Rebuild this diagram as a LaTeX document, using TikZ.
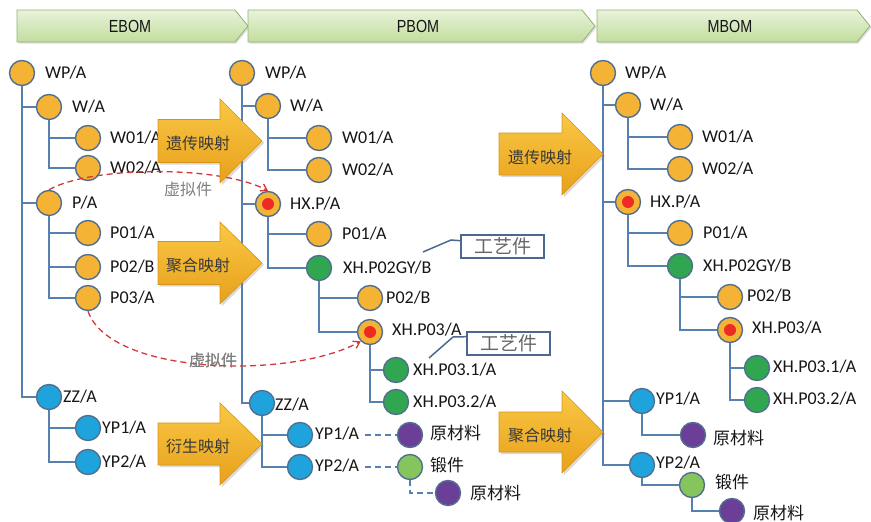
\documentclass[tikz,border=0pt]{standalone}
\usepackage{fontspec}
\setmainfont{Carlito}
\newfontfamily\hdrfont[FakeStretch=0.82]{Liberation Sans}
\newfontfamily\cjk{Noto Sans CJK SC}
\usetikzlibrary{shadows,calc,arrows.meta}

\definecolor{corange}{HTML}{F5B335}
\definecolor{cblue}{HTML}{1FA3DC}
\definecolor{cgreen}{HTML}{30A651}
\definecolor{clgreen}{HTML}{86C55E}
\definecolor{cpurple}{HTML}{6B3F98}
\definecolor{cdot}{HTML}{EE2A24}
\definecolor{cbord}{HTML}{51708F}
\definecolor{cline}{HTML}{5680B0}
\definecolor{cred}{HTML}{D2373A}
\definecolor{ctext}{HTML}{161616}
\definecolor{cgrey}{HTML}{808080}
\definecolor{hdrtop}{HTML}{E8F3DA}
\definecolor{hdrbot}{HTML}{C2DD9E}
\definecolor{hdrline}{HTML}{93B073}
\definecolor{arrtop}{HTML}{F9C846}
\definecolor{arrbot}{HTML}{E8A01A}
\definecolor{arrline}{HTML}{D6951A}
\definecolor{cbox}{HTML}{4A6890}

\begin{document}
\begin{tikzpicture}[x=1pt,y=-1pt,
  dot/.style={circle, draw=cbord, line width=1.4pt, minimum size=25pt, inner sep=0pt},
  ob/.style={dot, fill=corange},
  obr/.style={dot, fill=corange, path picture={\fill[cdot] (path picture bounding box.center) circle (6pt);}},
  bb/.style={dot, fill=cblue},
  gb/.style={dot, fill=cgreen},
  lgb/.style={dot, fill=clgreen},
  pb/.style={dot, fill=cpurple},
  lbl/.style={anchor=west, inner sep=0pt, text=ctext, font=\fontsize{18}{20}\selectfont},
  clbl/.style={anchor=west, inner sep=0pt, text=ctext, font=\cjk\fontsize{17}{20}\selectfont},
  ln/.style={draw=cline, line width=1.5pt},
  dln/.style={draw=cline, line width=1.5pt, dash pattern=on 6pt off 4pt},
  vline/.style={draw=cred, line width=1.3pt, dash pattern=on 6pt off 4pt, -{Straight Barb[length=6pt,width=8pt]}},
  vlbl/.style={inner sep=1pt, fill=white, text=cgrey, font=\cjk\fontsize{16}{18}\selectfont},
  hdr/.style={draw=hdrline, line width=0.8pt, top color=hdrtop, bottom color=hdrbot,
    drop shadow={opacity=0.25, shadow xshift=1.5pt, shadow yshift=-1.5pt}},
  htext/.style={text=ctext, font=\hdrfont\fontsize{17.5}{18}\selectfont},
  barrow/.style={draw=arrline, line width=0.6pt, top color=arrtop, bottom color=arrbot,
    drop shadow={opacity=0.3, shadow xshift=2pt, shadow yshift=-2pt}},
  atext/.style={text=ctext!85, font=\cjk\fontsize{16}{18}\selectfont},
  callbox/.style={draw=cbox, line width=1.6pt, minimum width=83pt, minimum height=23pt, inner sep=0pt,
    text=cgrey!80!black, font=\cjk\fontsize{19}{20}\selectfont},
  callln/.style={draw=cbox, line width=1.5pt}
]
\useasboundingbox (0,0) rectangle (871,522);

% ---------- stage headers ----------
\path[hdr] (17,10) -- (235,10) -- (248,26) -- (235,42) -- (17,42) -- cycle;
\path[hdr] (248,10) -- (582,10) -- (595,26) -- (582,42) -- (248,42) -- cycle;
\path[hdr] (597,10) -- (857,10) -- (870,26) -- (857,42) -- (597,42) -- cycle;
\node[htext] (hE) at (130,26) {EBOM};
\node[htext] (hP) at (418,26) {PBOM};
\node[htext] (hM) at (730,26) {MBOM};

% ---------- EBOM tree ----------
\node[ob] (ewp)  at (22,73)  {};  \node[lbl] (lewp)  at (45,73)  {WP/A};
\node[ob] (ew)   at (49,107) {};  \node[lbl] (lew)   at (72,107) {W/A};
\node[ob] (ew1)  at (88,138) {};  \node[lbl] (lew1)  at (110,138) {W01/A};
\node[ob] (ew2)  at (88,168) {};  \node[lbl] (lew2)  at (110,168) {W02/A};
\node[ob] (ep)   at (49,203) {};  \node[lbl] (lep)   at (72,203) {P/A};
\node[ob] (ep1)  at (88,233) {};  \node[lbl] (lep1)  at (110,233) {P01/A};
\node[ob] (ep2)  at (88,267) {};  \node[lbl] (lep2)  at (110,267) {P02/B};
\node[ob] (ep3)  at (88,298) {};  \node[lbl] (lep3)  at (110,298) {P03/A};
\node[bb] (ezz)  at (49,397) {};  \node[lbl] (lezz)  at (63,397) {ZZ/A};
\node[bb] (eyp1) at (88,428) {};  \node[lbl] (leyp1) at (102,428) {YP1/A};
\node[bb] (eyp2) at (88,462) {};  \node[lbl] (leyp2) at (102,462) {YP2/A};

\draw[ln] (ewp.south) |- (ew.west);
\draw[ln] (ewp.south) |- (ep.west);
\draw[ln] (ewp.south) |- (ezz.west);
\draw[ln] (ew.south) |- (ew1.west);
\draw[ln] (ew.south) |- (ew2.west);
\draw[ln] (ep.south) |- (ep1.west);
\draw[ln] (ep.south) |- (ep2.west);
\draw[ln] (ep.south) |- (ep3.west);
\draw[ln] (ezz.south) |- (eyp1.west);
\draw[ln] (ezz.south) |- (eyp2.west);

% ---------- PBOM tree ----------
\node[ob]  (pwp)  at (242,73)  {}; \node[lbl] (lpwp)  at (265,73)  {WP/A};
\node[ob]  (pw)   at (268,106) {}; \node[lbl] (lpw)   at (290,106) {W/A};
\node[ob]  (pw1)  at (319,138) {}; \node[lbl] (lpw1)  at (342,138) {W01/A};
\node[ob]  (pw2)  at (319,170) {}; \node[lbl] (lpw2)  at (342,170) {W02/A};
\node[obr] (phx)  at (268,204) {}; \node[lbl] (lphx)  at (290,204) {HX.P/A};
\node[ob]  (pp1)  at (319,234) {}; \node[lbl] (lpp1)  at (342,234) {P01/A};
\node[gb]  (pgy)  at (319,268) {}; \node[lbl] (lpgy)  at (343,268) {XH.P02GY/B};
\node[ob]  (pp2)  at (370,298) {}; \node[lbl] (lpp2)  at (386,298) {P02/B};
\node[obr] (pp3)  at (370,332) {}; \node[lbl] (lpp3)  at (392,330) {XH.P03/A};
\node[gb]  (pp31) at (396,370) {}; \node[lbl] (lpp31) at (413,370) {XH.P03.1/A};
\node[gb]  (pp32) at (396,402) {}; \node[lbl] (lpp32) at (413,402) {XH.P03.2/A};
\node[bb]  (pzz)  at (262,403) {}; \node[lbl] (lpzz)  at (275,405) {ZZ/A};
\node[bb]  (pyp1) at (300,435) {}; \node[lbl] (lpyp1) at (315,434) {YP1/A};
\node[bb]  (pyp2) at (300,467) {}; \node[lbl] (lpyp2) at (315,466) {YP2/A};
\node[pb]  (praw1) at (410,435) {}; \node[clbl] (lpraw1) at (430,433) {原材料};
\node[lgb] (pfrg)  at (410,467) {}; \node[clbl] (lpfrg)  at (430,465) {锻件};
\node[pb]  (praw2) at (448,493) {}; \node[clbl] (lpraw2) at (470,493) {原材料};

\draw[ln] (pwp.south) |- (pw.west);
\draw[ln] (pwp.south) |- (phx.west);
\draw[ln] (pwp.south) |- (pzz.west);
\draw[ln] (pw.south) |- (pw1.west);
\draw[ln] (pw.south) |- (pw2.west);
\draw[ln] (phx.south) |- (pp1.west);
\draw[ln] (phx.south) |- (pgy.west);
\draw[ln] (pgy.south) |- (pp2.west);
\draw[ln] (pgy.south) |- (pp3.west);
\draw[ln] (pp3.south) |- (pp31.west);
\draw[ln] (pp3.south) |- (pp32.west);
\draw[ln] (pzz.south) |- (pyp1.west);
\draw[ln] (pzz.south) |- (pyp2.west);
\draw[dln] ($(lpyp1.east)+(6,1)$) -- (praw1.west);
\draw[dln] ($(lpyp2.east)+(6,1)$) -- (pfrg.west);
\draw[dln] (pfrg.south) |- (praw2.west);

% process-part callouts
\node[callbox] (cb1) at (502.5,246.5) {工艺件};
\node[callbox] (cb2) at (508.5,343.5) {工艺件};
\coordinate (cf1) at (423,252);
\coordinate (cf2) at (429,358);
\draw[callln] (cf1) -- (451,240) -- ($(cb1.north west)+(0,6.5)$);
\draw[callln] (cf2) -- (453,337) -- ($(cb2.north west)+(0,5.5)$);

% ---------- MBOM tree ----------
\node[ob]  (mwp)  at (603,73)  {}; \node[lbl] (lmwp)  at (625,73)  {WP/A};
\node[ob]  (mw)   at (628,105) {}; \node[lbl] (lmw)   at (650,105) {W/A};
\node[ob]  (mw1)  at (680,137) {}; \node[lbl] (lmw1)  at (702,137) {W01/A};
\node[ob]  (mw2)  at (680,169) {}; \node[lbl] (lmw2)  at (702,169) {W02/A};
\node[obr] (mhx)  at (628,202) {}; \node[lbl] (lmhx)  at (650,202) {HX.P/A};
\node[ob]  (mp1)  at (680,233) {}; \node[lbl] (lmp1)  at (703,233) {P01/A};
\node[gb]  (mgy)  at (680,266) {}; \node[lbl] (lmgy)  at (703,266) {XH.P02GY/B};
\node[ob]  (mp2)  at (730,297) {}; \node[lbl] (lmp2)  at (747,296) {P02/B};
\node[obr] (mp3)  at (730,330) {}; \node[lbl] (lmp3)  at (752,328) {XH.P03/A};
\node[gb]  (mp31) at (757,368) {}; \node[lbl] (lmp31) at (773,367) {XH.P03.1/A};
\node[gb]  (mp32) at (757,400) {}; \node[lbl] (lmp32) at (773,399) {XH.P03.2/A};
\node[bb]  (myp1) at (642,401) {}; \node[lbl] (lmyp1) at (656,399) {YP1/A};
\node[pb]  (mraw1) at (693,435) {}; \node[clbl] (lmraw1) at (713,438) {原材料};
\node[bb]  (myp2) at (642,465) {}; \node[lbl] (lmyp2) at (656,463) {YP2/A};
\node[lgb] (mfrg)  at (692,485) {}; \node[clbl] (lmfrg)  at (715,482) {锻件};
\node[pb]  (mraw2) at (732,511) {}; \node[clbl] (lmraw2) at (753,513) {原材料};

\draw[ln] (mwp.south) |- (mw.west);
\draw[ln] (mwp.south) |- (mhx.west);
\draw[ln] (mwp.south) |- (myp1.west);
\draw[ln] (mwp.south) |- (myp2.west);
\draw[ln] (mw.south) |- (mw1.west);
\draw[ln] (mw.south) |- (mw2.west);
\draw[ln] (mhx.south) |- (mp1.west);
\draw[ln] (mhx.south) |- (mgy.west);
\draw[ln] (mgy.south) |- (mp2.west);
\draw[ln] (mgy.south) |- (mp3.west);
\draw[ln] (mp3.south) |- (mp31.west);
\draw[ln] (mp3.south) |- (mp32.west);
\draw[ln] (myp1.south) |- (mraw1.west);
\draw[ln] (myp2.south) |- (mfrg.west);
\draw[ln] (mfrg.south) |- (mraw2.west);

% ---------- virtual-part links ----------
\node[vlbl] (v1) at (188,189) {虚拟件};
\node[vlbl] (v2) at (213,360) {虚拟件};
\draw[vline] (ep.north) .. controls (90,166) and (220,165) .. (phx.north);
\draw[vline] (ep3.south) .. controls (110,375) and (290,380) .. (pp3.south west);
\node[vlbl, fill=none] (v2t) at (v2) {虚拟件};

% ---------- mapping arrows ----------
\path[barrow] (158,119.5) -- (220,119.5) -- (220,99) -- (262,141) -- (220,183) -- (220,162.5) -- (158,162.5) -- cycle;
\node[atext] (a1) at (198,143) {遗传映射};
\path[barrow] (158,241.5) -- (220,241.5) -- (220,222) -- (262,263) -- (220,304) -- (220,284.5) -- (158,284.5) -- cycle;
\node[atext] (a2) at (198,265) {聚合映射};
\path[barrow] (158,423) -- (220,423) -- (220,403) -- (262,444) -- (220,485) -- (220,465) -- (158,465) -- cycle;
\node[atext] (a3) at (198,446) {衍生映射};
\path[barrow] (499,133) -- (562,133) -- (562,113) -- (603,154) -- (562,195) -- (562,175) -- (499,175) -- cycle;
\node[atext] (a4) at (540,157) {遗传映射};
\path[barrow] (499,412) -- (562,412) -- (562,391) -- (603,432) -- (562,473) -- (562,452) -- (499,452) -- cycle;
\node[atext] (a5) at (540,435) {聚合映射};
\end{tikzpicture}
\end{document}
